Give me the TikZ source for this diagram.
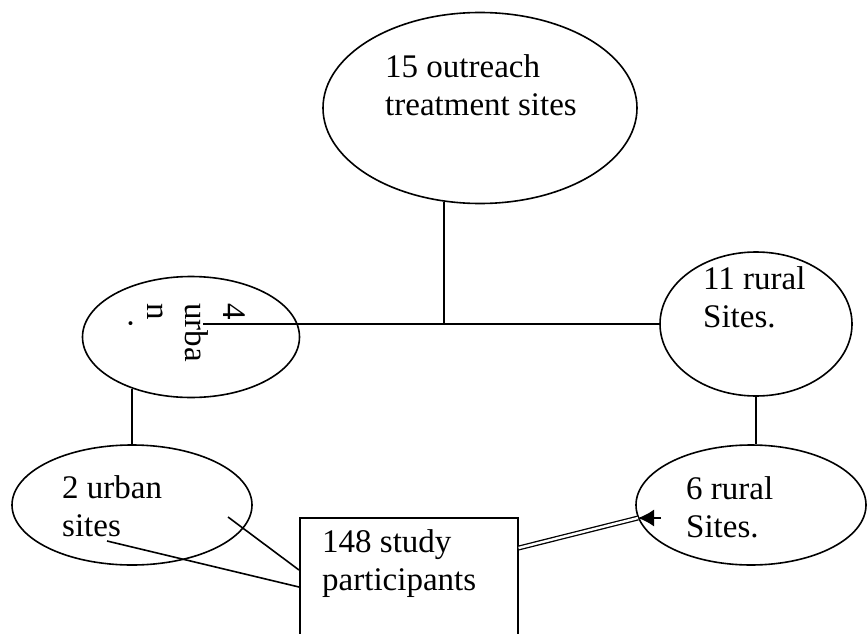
\documentclass[tikz,border=0pt]{standalone}
\usepackage{fontspec}
\setmainfont{Liberation Serif}
\usetikzlibrary{shapes,arrows.meta}

\tikzset{
    site/.style={ellipse,draw,line width=1.6pt,inner sep=0pt},
    sitetext/.style={anchor=base west,align=left,inner sep=0pt,
        font=\fontsize{33}{38}\selectfont},
    link/.style={line width=1.6pt}
}

\begin{document}
\begin{tikzpicture}[x=1pt,y=-1pt]
    \clip (0,0) rectangle (867,634);
    % Ellipses
    \node (outreach) at (480,108) [site,minimum width=314,minimum height=191] {};
    \node (urbanfour) at (191,337) [site,minimum width=217,minimum height=121] {};
    \node (ruraleleven) at (756,324) [site,minimum width=192,minimum height=144] {};
    \node (urbantwo) at (132,505) [site,minimum width=240,minimum height=120] {};
    \node (ruralsix) at (751,505) [site,minimum width=230,minimum height=120] {};
    % Box
    \node (participants) at (299,517) [draw,line width=1.6pt,anchor=north west,
        minimum width=218,minimum height=150,inner sep=0pt] {};
    % Texts (base = last line)
    \node (outreachtext) at (385,115) [sitetext] {15 outreach\\treatment sites};
    \node (urbanfourtext) at (129,303) [sitetext,rotate=-90]
        {4\\urba\\n\\[-20pt]\phantom{n}.};
    \node (ruraleleventext) at (703,327) [sitetext] {11 rural\\Sites.};
    \node (urbantwotext) at (62,536) [sitetext] {2 urban\\sites};
    \node (ruralsixtext) at (686,537) [sitetext] {6 rural\\Sites.};
    \node (participantstext) at (322,590) [sitetext] {148 study\\participants};
    % Connectors
    \coordinate (junction) at (444,324);
    \coordinate (urbanfourend) at (203,324);
    \coordinate (sitesend) at (107,541);
    \coordinate (urbantwoend) at (228,517);
    \coordinate (boxinlow) at ([yshift=-70pt]participants.north west);
    \coordinate (boxinhigh) at ([yshift=-53pt]participants.north west);
    \coordinate (boxout) at ([yshift=-31pt]participants.north east);
    \coordinate (arrowtail) at (661,518);
    \coordinate (arrowtip) at (638,518);
    \draw [link] (outreach.249) -- (outreach.249 |- junction);
    \draw [link] (urbanfourend) -- (ruraleleven.west);
    \draw [link] (urbantwo.north) -- (urbantwo.north |- urbanfour.221);
    \draw [link] (ruraleleven.south) -- (ruraleleven.south |- ruralsix.north);
    \draw [link] (sitesend) -- (boxinlow);
    \draw [link] (urbantwoend) -- (boxinhigh);
    \draw [line width=1.3pt,double,double distance=2.4pt] (boxout) -- (arrowtip);
    \draw [link,-{Latex[length=16pt,width=17pt]}] (arrowtail) -- (arrowtip);
\end{tikzpicture}
\end{document}
